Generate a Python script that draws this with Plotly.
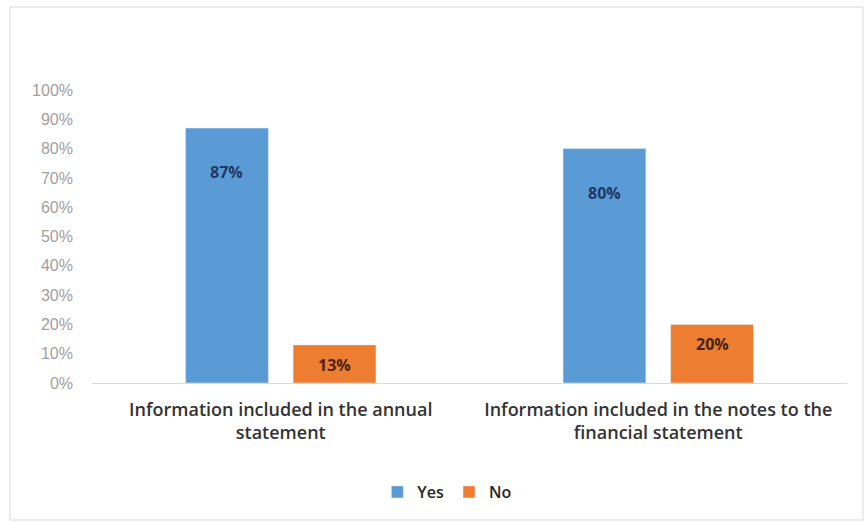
import plotly.graph_objects as go

categories = [
    "Information included in the annual<br>statement",
    "Information included in the notes to the<br>financial statement",
]
yes_values = [0.87, 0.80]
no_values = [0.13, 0.20]
tick_values = [0, 0.1, 0.2, 0.3, 0.4, 0.5, 0.6, 0.7, 0.8, 0.9, 1.0]
tick_labels = ["0%", "10%", "20%", "30%", "40%", "50%", "60%", "70%", "80%", "90%", "100%"]

BLUE = "#5B9BD5"
ORANGE = "#ED7D31"

# plot area in pixels
L, R, T, B = 92, 18, 90, 139
PW, PH = 865 - L - R, 522 - T - B

fig = go.Figure()
fig.add_trace(go.Bar(name="Yes", x=categories, y=yes_values, marker_color=BLUE,
                     offsetgroup="yes"))
fig.add_trace(go.Bar(name="No", x=categories, y=no_values, marker_color=ORANGE,
                     offsetgroup="no"))

# value labels placed inside near the top of each bar
for vals, xshift, yshift, color in [(yes_values, -54, -44, "#1F3864"),
                                    (no_values, 54, -20, "#4A2310")]:
    for cat, v in zip(categories, vals):
        fig.add_annotation(x=cat, y=v, text=f"<b>{round(v*100)}%</b>", showarrow=False,
                           xshift=xshift, yshift=yshift,
                           font=dict(family="Open Sans", size=16, color=color))

fig.update_layout(
    width=865, height=522,
    paper_bgcolor="white", plot_bgcolor="white",
    margin=dict(l=L, r=R, t=T, b=B),
    barmode="group", bargap=0.43, bargroupgap=0.23,
    showlegend=True,
    legend=dict(orientation="h", x=0.47, xanchor="center", y=-(492 - 383) / PH,
                yanchor="middle",
                font=dict(family="Open Sans", size=16, color="#262626", weight=600),
                itemwidth=30, traceorder="normal"),
    xaxis=dict(showgrid=False, showline=True, linecolor="#D9D9D9", linewidth=1,
               tickfont=dict(family="Open Sans", size=18, color="#333333", weight=600),
               ticks="", ticklabelstandoff=10),
    yaxis=dict(range=[0, 1.0], tickvals=tick_values, ticktext=tick_labels,
               showgrid=False, zeroline=False, showline=False,
               ticklabelstandoff=18,
               tickfont=dict(family="Liberation Sans", size=16, color="#A0A0A0")),
    shapes=[dict(type="rect", xref="paper", yref="paper",
                 x0=(10 - L) / PW, x1=(863 - L) / PW,
                 y0=-(520 - 383) / PH, y1=1 + (T - 7) / PH,
                 line=dict(color="#D9D9D9", width=1), fillcolor="rgba(0,0,0,0)",
                 layer="below")],
)

fig.write_html("out.html")
